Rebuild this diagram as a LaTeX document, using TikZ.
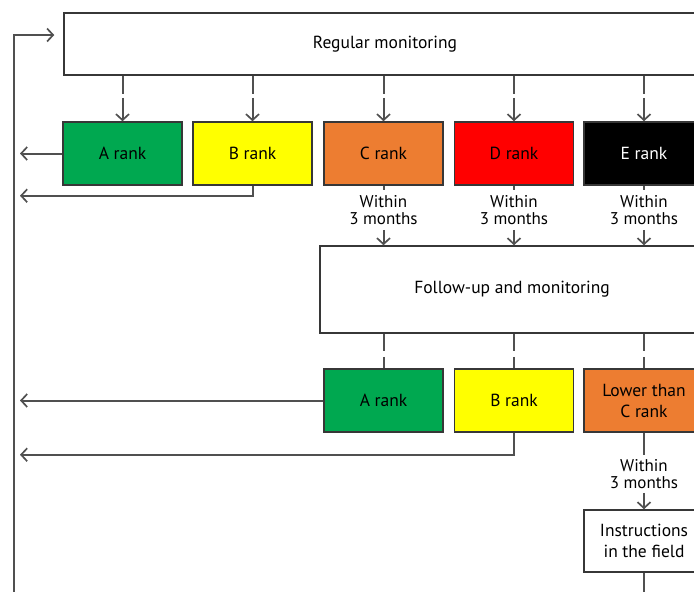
\documentclass[tikz,border=0pt]{standalone}
\usepackage{fontspec}
\setmainfont{PT Sans}
\usetikzlibrary{arrows.meta}
\definecolor{rgreen}{RGB}{0,168,80}
\definecolor{ryellow}{RGB}{255,255,0}
\definecolor{rorange}{RGB}{237,125,49}
\definecolor{rred}{RGB}{255,0,0}
\definecolor{lineg}{RGB}{80,80,80}
\definecolor{boxb}{RGB}{55,55,55}
\tikzset{
  box/.style={draw=boxb, line width=1.5pt, rectangle, inner sep=0pt, align=center,
    font=\fontsize{17.5}{21}\selectfont},
  rankbox/.style={box, minimum width=119pt, minimum height=63pt},
  conn/.style={draw=lineg, line width=2pt},
  arr/.style={conn, -{Straight Barb[length=6pt,width=13pt,line width=1.7pt]}},
  lbl/.style={align=center, inner sep=0pt, font=\fontsize{17}{17}\selectfont}
}
\begin{document}
\begin{tikzpicture}[x=1pt,y=-1pt]
\useasboundingbox (0,0) rectangle (694,592);
\clip (0,0) rectangle (694,592);
% main boxes
\node[box, minimum width=642pt, minimum height=62pt] (R) at (385,44) {Regular monitoring};
\node[rankbox, fill=rgreen] (A) at (122.5,153.5) {A rank};
\node[rankbox, fill=ryellow] (B) at (252.5,153.5) {B rank};
\node[rankbox, fill=rorange] (C) at (383.5,153.5) {C rank};
\node[rankbox, fill=rred] (D) at (514,153.5) {D rank};
\node[rankbox, fill=black, text=white, minimum width=120pt] (E) at (644,153.5) {E rank};
\node[box, minimum width=384pt, minimum height=87pt] (F) at (512,289.5) {Follow-up and monitoring};
\node[rankbox, fill=rgreen] (A2) at (383.5,400.5) {A rank};
\node[rankbox, fill=ryellow] (B2) at (514,400.5) {B rank};
\node[rankbox, fill=rorange, minimum width=120pt] (L) at (644,400.5) {Lower than\\C rank};
\node[box, minimum width=120pt, minimum height=62pt] (I) at (644,541) {Instructions\\in the field};
% return coordinates
\coordinate (ret) at (20,0);
\coordinate (loopbot) at (14,592);
% connectors from Regular monitoring
\foreach \n in {A,B,C,D,E}{
  \draw[arr, dash pattern=on 18pt off 4pt on 40pt] (R.south -| \n.north) -- (\n.north);
}
% returns row 1
\draw[arr] (A.west) -- (A.west -| ret);
\draw[arr] (B.south) |- ([yshift=-10pt]B.south -| ret);
% within 3 months row1
\foreach \n in {C,D,E}{
  \draw[conn] (\n.south) -- ++(0,4);
  \node[lbl] (w\n) at ([yshift=-24.5pt]\n.south) {Within\\3 months};
  \draw[arr] ([yshift=-44pt]\n.south) -- (F.north -| \n.south);
}
% follow-up to row 2
\foreach \n in {A2,B2,L}{
  \draw[conn, dash pattern=on 17pt off 6pt on 40pt] (F.south -| \n.north) -- (\n.north);
}
% returns row 2
\draw[arr] (A2.west) -- (A2.west -| ret);
\draw[arr] (B2.south) |- ([yshift=-22pt]B2.south -| ret);
% lower than C to instructions
\draw[conn] (L.south) -- ++(0,22);
\node[lbl] (wL) at ([yshift=-41pt]L.south) {Within\\3 months};
\draw[arr] ([yshift=-60pt]L.south) -- (I.north);
\draw[conn] (I.south) -- ++(0,30);
% loop back
\draw[arr] (loopbot) -- (14,35) -- ([xshift=-9pt]R.west |- 0,35);
\end{tikzpicture}
\end{document}
